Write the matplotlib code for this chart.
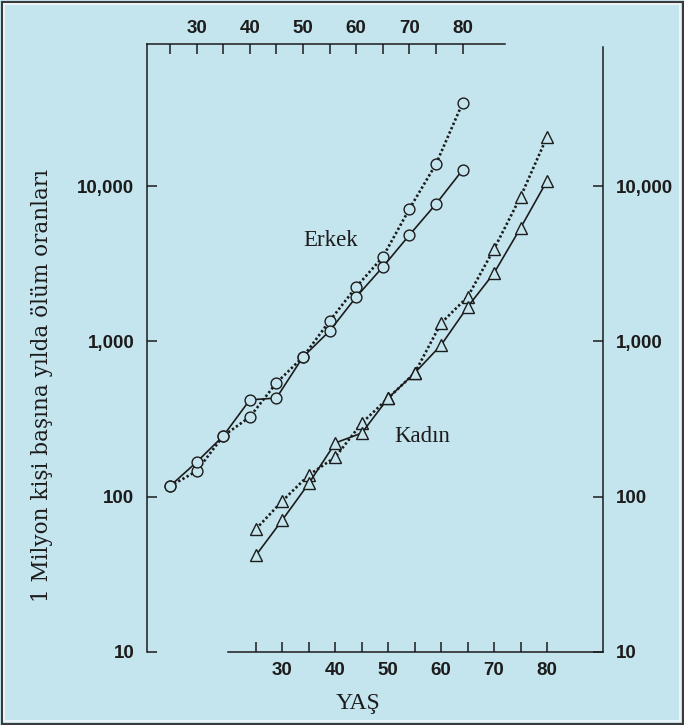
import matplotlib
matplotlib.use("Agg")
import matplotlib.pyplot as plt
from matplotlib.patches import Rectangle
from matplotlib.ticker import FixedLocator, NullLocator
from matplotlib.font_manager import FontProperties

# ---- data ----
ages = [25, 30, 35, 40, 45, 50, 55, 60, 65, 70, 75, 80]
erkek_solid = [117, 167, 246, 420, 432, 794, 1167, 1932, 3013, 4842, 7674, 12700]
erkek_dotted = [117, 146, 246, 326, 540, 794, 1353, 2240, 3494, 7125, 13870, 34270]
kadin_solid = [42, 71, 122, 222, 257, 432, 626, 948, 1666, 2757, 5370, 10790]
kadin_dotted = [62, 94, 138, 180, 298, 432, 626, 1313, 1932, 3936, 8510, 20700]
x_ticks = [25, 30, 35, 40, 45, 50, 55, 60, 65, 70, 75, 80]
x_ticklabels = ["", "30", "", "40", "", "50", "", "60", "", "70", "", "80"]
y_ticks = [10, 100, 1000, 10000]
y_ticklabels = ["10", "100", "1,000", "10,000"]

BG = "#c5e5ee"
INK = "#1c1c1c"
W, H = 684, 725

fig = plt.figure(figsize=(W / 100, H / 100), dpi=100, facecolor=BG)

# frame of picture
fig.patches.append(Rectangle((1.5 / W, 1.5 / H), (W - 3) / W, (H - 3) / H,
                             transform=fig.transFigure, fill=False,
                             edgecolor="#3a3a3a", linewidth=1.5))
fig.patches.append(Rectangle((4 / W, 4 / H), (W - 8) / W, (H - 8) / H,
                             transform=fig.transFigure, fill=False,
                             edgecolor="#f2f6f7", linewidth=1.2))

# axes geometry in pixels
L, R, T, B = 147, 603, 44, 652
ax = fig.add_axes([L / W, (H - B) / H, (R - L) / W, (B - T) / H])
ax.set_facecolor("none")

DEC = 155.3  # pixels per decade
ax.set_yscale("log")
ax.set_ylim(10, 10 ** (1 + (B - T) / DEC))

# bottom axis (Kadın): age 25 at px 256, 5.29 px / year
kx0, kpx = 256, 5.29
ax.set_xlim(25 + (L - kx0) / kpx, 25 + (R - kx0) / kpx)

# top axis (Erkek): age 25 at px 170, 5.32 px / year
ax2 = ax.twiny()
ax2.set_facecolor("none")
ex0, epx = 170, 5.32
ax2.set_xlim(25 + (L - ex0) / epx, 25 + (R - ex0) / epx)
ax2.set_yscale("log")
ax2.set_ylim(ax.get_ylim())

lw = 1.1
tick_font = dict(family="Liberation Sans", weight="bold", size=13.5)

# spines
ax.spines["top"].set_visible(False)
for s in ["left", "right", "bottom"]:
    ax2.spines[s].set_visible(False)
for s in ["left", "right", "bottom"]:
    ax.spines[s].set_color(INK)
    ax.spines[s].set_linewidth(lw)
ax2.spines["top"].set_color(INK)
ax2.spines["top"].set_linewidth(lw)
ax.spines["bottom"].set_bounds(25 + (228 - kx0) / kpx, 25 + (R - kx0) / kpx)
ax.spines["right"].set_bounds(10, 10 ** (1 + (B - 47) / DEC))
ax2.spines["top"].set_bounds(25 + (L - ex0) / epx, 25 + (505 - ex0) / epx)

# y ticks
ax.yaxis.set_major_locator(FixedLocator(y_ticks))
ax.yaxis.set_minor_locator(NullLocator())
ax.set_yticks(y_ticks)
ax.set_yticklabels(y_ticklabels, fontdict=tick_font)
ax.tick_params(axis="y", which="major", direction="in", left=True, right=True,
               labelleft=True, labelright=True, length=7, width=lw,
               color=INK, labelcolor=INK, pad=9)
ax.yaxis.set_tick_params(which="minor", left=False, right=False)
for lab in ax.get_yticklabels(which="both"):
    lab.set_fontproperties(FontProperties(**tick_font))
ax2.yaxis.set_visible(False)

# x ticks
ax.set_xticks(x_ticks)
ax.set_xticklabels(x_ticklabels, fontdict=tick_font)
ax.tick_params(axis="x", direction="in", length=7, width=lw, color=INK,
               labelcolor=INK, pad=7)
ax2.set_xticks(x_ticks)
ax2.set_xticklabels(x_ticklabels, fontdict=tick_font)
ax2.tick_params(axis="x", direction="in", length=7, width=lw, color=INK,
                labelcolor=INK, pad=5)

# series
mk = dict(markerfacecolor=BG, markeredgecolor=INK, markeredgewidth=1.0, color=INK)
dotted = (0, (0.9, 0.9))
ax2.plot(ages, erkek_dotted, linestyle=dotted, linewidth=1.9, marker="o",
         markersize=7.8, zorder=3, **mk)
ax2.plot(ages, erkek_solid, linestyle="-", linewidth=1.2, marker="o",
         markersize=7.8, zorder=4, **mk)
ax.plot(ages, kadin_dotted, linestyle=dotted, linewidth=1.9, marker="^",
        markersize=8.5, zorder=3, **mk)
ax.plot(ages, kadin_solid, linestyle="-", linewidth=1.2, marker="^",
        markersize=8.5, zorder=4, **mk)

serif = dict(family="Liberation Serif", color=INK)
fig.text(331 / W, 1 - 240 / H, "Erkek", ha="center", va="center", size=16.5, **serif)
fig.text(422 / W, 1 - 437 / H, "Kadın", ha="center", va="center", size=16.5, **serif)
fig.text(358 / W, 1 - 703 / H, "YAŞ", ha="center", va="center", size=17, **serif)
fig.text(42 / W, 1 - 385 / H, "1 Milyon kişi başına yılda ölüm oranları",
         ha="center", va="center", rotation=90, size=15.5,
         family="DejaVu Serif", color=INK)

fig.savefig("out.png", dpi=100, facecolor=BG)
